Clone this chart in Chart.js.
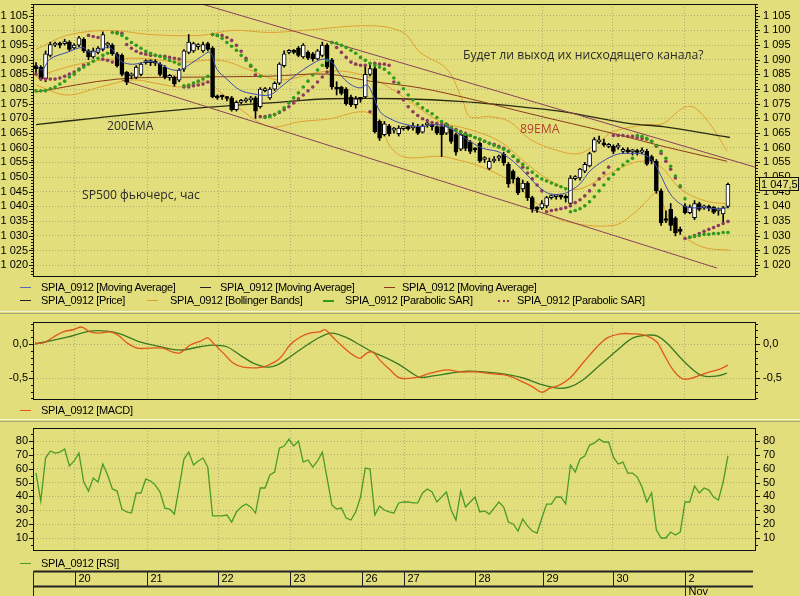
<!DOCTYPE html>
<html>
<head>
<meta charset="utf-8">
<script src="https://cdn.jsdelivr.net/npm/chart.js@4/dist/chart.umd.min.js"></script>
<style>
  body { margin: 0; width: 800px; height: 596px; overflow: hidden; position: relative; background: #E2DE7C; font-family: "Liberation Sans", Arial, sans-serif; }
  canvas { position: absolute; left: 0; }
  .note { position: absolute; white-space: nowrap; font: 12.2px "Open Sans", sans-serif; line-height: 18px; color: #2a2a2a; }
  .lg { position: absolute; white-space: nowrap; font-size: 11px; letter-spacing: -0.35px; line-height: 13px; color: #000; }
  .sw { position: absolute; width: 11px; height: 0; border-top: 1px solid #000; }
  .split { position: absolute; left: 0; width: 800px; height: 1px; }
</style>
</head>
<body>
<canvas id="price" width="800" height="311" style="top:0"></canvas>
<canvas id="macd" width="800" height="104" style="top:314px"></canvas>
<canvas id="rsi" width="800" height="174" style="top:422px"></canvas>

<div class="split" style="top:311px;background:#f6f4d8"></div>
<div class="split" style="top:313px;background:#a8a67c"></div>
<div class="split" style="top:419px;background:#f6f4d8"></div>
<div class="split" style="top:421px;background:#a8a67c"></div>

<div class="note" style="left:463px;top:46px">Будет ли выход их нисходящего канала?</div>
<div class="note" style="left:107px;top:117px">200EMA</div>
<div class="note" style="left:520px;top:120px;color:#b3402a">89EMA</div>
<div class="note" style="left:82px;top:186px">SP500 фьючерс, час</div>

<div class="sw" style="left:20px;top:287px;border-color:#5a64b4"></div><div class="lg" style="left:41px;top:281px">SPIA_0912 [Moving Average]</div>
<div class="sw" style="left:200px;top:287px;border-color:#222"></div><div class="lg" style="left:220px;top:281px">SPIA_0912 [Moving Average]</div>
<div class="sw" style="left:384px;top:287px;border-color:#8a3a1a"></div><div class="lg" style="left:402px;top:281px">SPIA_0912 [Moving Average]</div>
<div class="sw" style="left:20px;top:300px;border-color:#222"></div><div class="lg" style="left:41px;top:294px">SPIA_0912 [Price]</div>
<div class="sw" style="left:147px;top:300px;border-color:#e0a030"></div><div class="lg" style="left:170px;top:294px">SPIA_0912 [Bollinger Bands]</div>
<div class="sw" style="left:323px;top:300px;border-color:#2e9a1e;border-top-width:2px"></div><div class="lg" style="left:345px;top:294px">SPIA_0912 [Parabolic SAR]</div>
<div class="sw" style="left:498px;top:300px;border-color:#8e3a5e;border-top:2px dotted #8e3a5e"></div><div class="lg" style="left:517px;top:294px">SPIA_0912 [Parabolic SAR]</div>
<div class="sw" style="left:20px;top:410px;border-color:#e0561c"></div><div class="lg" style="left:41px;top:404px">SPIA_0912 [MACD]</div>
<div class="sw" style="left:20px;top:563px;border-color:#4a9a2a"></div><div class="lg" style="left:41px;top:557px">SPIA_0912 [RSI]</div>

<script>
// day boundaries on the bar index axis and their labels
const days = ['20', '21', '22', '23', '26', '27', '28', '29', '30', '2'];
const dayStart = [8.17, 23.26, 38.14, 53.23, 68.31, 77.12, 92.0, 106.24, 120.91, 135.99];

// hourly candles
const open = [1088,1087.5,1083.5,1091.5,1095,1095.2,1095.5,1096,1094,1095,
  1097,1093,1091,1092.5,1093.5,1095,1095,1092,1091.5,1085.8,
  1084.5,1084,1085,1089,1089,1089,1088.5,1087.5,1084,1084,
  1083,1086.8,1092.5,1093,1094.5,1093,1095.5,1094,1077.5,1077.5,
  1077,1077,1073,1075.5,1076,1076.3,1077,1074,1079.5,1077,
  1080,1082,1088,1092.5,1093,1094,1091,1092.5,1092,1090.3,
  1091.5,1095,1090,1080.5,1080.7,1080,1077.3,1074.7,1076.7,1077.3,
  1085,1087,1069,1064.5,1067.5,1066,1064.8,1066.5,1066.7,1066.8,
  1067.2,1065.3,1067.8,1067.5,1067.2,1067.2,1065,1066.5,1064.5,1059.5,
  1064.5,1062,1059.5,1061.5,1056,1053,1055.5,1056.5,1057.8,1054.4,
  1052,1049.6,1046,1048,1043,1039.5,1039.5,1040.2,1043,1043.3,
  1043.5,1043,1041,1049.5,1049.7,1052,1053.8,1058.8,1062,1061.5,
  1060.5,1060.5,1060.2,1058.8,1059,1058.6,1059,1058.5,1058.8,1057,
  1055.4,1045.3,1035.5,1039,1036,1031.8,1040.2,1037.9,1036.2,1041,
  1039.5,1039.6,1039.7,1038.5,1037.5,1040];
const high = [1089,1088,1093,1096,1096,1096,1097,1096.5,1095.5,1098,
  1097.5,1093.5,1094,1094.5,1099.5,1096,1095.5,1092.5,1092,1086,
  1085.5,1088,1089,1090,1090,1090,1089,1088,1085,1084.5,
  1087,1093.5,1098.6,1096,1095.5,1096,1096,1094.5,1078,1078,
  1077.5,1077.5,1076,1076.5,1077,1077.5,1077.5,1080.5,1080.5,1080.5,
  1082.5,1089,1093,1093.5,1093.5,1094.5,1095.5,1093,1092.5,1093.5,
  1096,1095.5,1090.5,1082.5,1081,1080.5,1078,1077.5,1077,1088,
  1088.5,1088,1069.5,1069,1068,1067,1067.5,1067.2,1067.5,1068.5,
  1068,1068,1069,1068,1067.5,1067.5,1068.5,1067,1065,1065,
  1065,1062.5,1060,1062,1057,1056.5,1057,1057.5,1058.5,1055,
  1052.5,1050,1049,1048.5,1043.5,1040,1042,1043.5,1044,1044,
  1044,1044,1050.5,1050.5,1053,1055,1058.5,1063.5,1064,1063,
  1061.5,1061,1061.5,1060,1060,1059.5,1059.5,1060,1059.5,1057.5,
  1056,1046,1038.5,1041,1036.5,1033,1041,1040.5,1042,1041.5,
  1040.5,1040.5,1040,1039.5,1040,1048];
const low = [1085,1083,1082.5,1091,1094.5,1094,1095,1093,1093.5,1094.5,
  1092.5,1090,1090.5,1092,1093,1094,1091.5,1087.5,1084.5,1081.5,
  1083.5,1083.5,1084.5,1088.5,1088,1088,1084.5,1083.5,1083,1081,
  1082.5,1086,1092,1092.5,1093.5,1092.5,1093,1077,1076.5,1076.5,
  1076,1072.5,1072.5,1075,1075.5,1075.5,1070,1073.5,1079,1076.5,
  1079.5,1081.5,1087.5,1092,1092,1091,1090.5,1090,1089.5,1090,
  1091,1087,1080,1078,1078,1074.5,1074,1073.5,1075.5,1077,
  1084.5,1065,1062.5,1064,1064,1065,1064,1066,1066,1066,
  1064.5,1065,1067,1066,1064.5,1057,1064.5,1061.5,1057.5,1059,
  1059,1058,1058.5,1055,1055,1052.5,1055,1055.5,1054,1046.5,
  1048,1044,1045,1042,1038,1038,1039,1039.5,1042.5,1042.5,
  1042.5,1041.5,1040,1049,1049,1051.5,1053.5,1058.5,1061.5,1060.5,
  1060,1058,1059.5,1058,1058,1057.5,1057.5,1058,1054,1054.5,
  1044.5,1033.5,1034.5,1031.8,1030,1030.5,1037.5,1037.5,1035.5,1038.5,
  1039,1038.5,1037.5,1037,1034.5,1039.5];
const close = [1087,1083.5,1092,1095.2,1095.3,1095,1096.2,1093.5,1095,1097.5,
  1093,1091,1093,1094,1098.6,1095.3,1092,1088,1085,1082.4,
  1085,1087.5,1088.5,1089.5,1089.2,1088.8,1085,1084,1084.3,1081.8,
  1086.5,1093,1096,1095.5,1095,1095.2,1093.5,1077.3,1077,1077.3,
  1076.8,1073,1075.5,1076,1076.5,1076.8,1072.5,1080,1080,1080,
  1082,1088.5,1092,1093,1092.5,1091.5,1095,1090.5,1090.3,1093,
  1095,1087.5,1080.7,1080,1078.5,1075,1074.7,1076.7,1076.5,1085,
  1087,1065.5,1063.3,1068.2,1064.8,1066.3,1066.7,1066.7,1066.5,1067,
  1065,1067.5,1068.2,1067.2,1065,1064.5,1068.2,1062.2,1058.5,1064.5,
  1059.8,1058.8,1059.3,1055.4,1056.2,1055.4,1056,1056.8,1054.8,1047.7,
  1049.3,1044.6,1048,1043,1039.2,1039,1041,1043,1043.3,1043.5,
  1043.2,1042.8,1049.7,1050,1052.7,1054.4,1058,1062.8,1062.3,1061,
  1060.8,1058.8,1060.5,1059,1058.6,1059,1058.4,1059,1054.4,1055.4,
  1045.3,1034.5,1035.2,1033.5,1031,1031.5,1037.9,1039.8,1041,1039,
  1039.8,1039.4,1038,1038.8,1039.5,1047.5];

// parabolic SAR, two settings
const sarGreen = [1079.4,1079.4,1079.4,1080.1,1080.7,1081.7,1082.7,1084.1,1085.1,1086.5,
  1087.5,1088.5,1089.5,1090.5,1091.5,1092.2,1099.3,1099.0,1098.3,1097.3,
  1095.9,1094.9,1093.9,1092.9,1092.2,1091.5,1091.2,1090.5,1089.8,1089.2,
  1088.5,1081.1,1081.4,1082.1,1082.7,1083.4,1084.4,1098.6,1098.3,1097.3,
  1095.9,1094.6,1093.2,1091.5,1089.8,1088.1,1086.5,1084.4,1070.3,1070.6,
  1071.3,1072.3,1073.6,1075.3,1077.0,1078.7,1080.7,1082.7,1084.8,1086.5,
  1088.1,1089.8,1095.9,1095.6,1094.9,1094.2,1093.2,1092.2,1090.8,1089.8,
  1088.8,1088.1,1087.5,1086.8,1085.5,1083.8,1082.1,1080.1,1078.0,1076.3,
  1075.0,1073.6,1072.6,1071.6,1070.3,1068.9,1067.9,1066.9,1065.9,1065.2,
  1064.5,1064.2,1063.5,1062.9,1062.2,1061.5,1060.8,1060.2,1059.5,1058.8,
  1057.1,1055.8,1054.4,1053.1,1051.7,1050.4,1049.4,1048.7,1048.0,1047.3,
  1046.7,1046.0,1038.2,1038.6,1039.2,1040.2,1041.6,1043.3,1045.3,1047.3,
  1049.4,1051.0,1052.7,1054.1,1055.4,1056.4,1064.2,1063.9,1063.2,1062.2,
  1060.8,1058.8,1056.4,1053.7,1050.4,1047.0,1042.6,1029.5,1029.8,1030.1,
  1030.5,1030.5,1030.8,1030.8,1031.1,1031.1];
const sarPurple = [1085.1,1083.4,1083.4,1083.4,1083.4,1083.8,1084.4,1085.1,1085.8,1086.8,
  1088.1,1098.3,1097.9,1097.6,1090.2,1089.8,1089.2,1099.3,1099.0,1095.2,
  1093.9,1092.9,1092.2,1091.9,1091.5,1091.5,1091.2,1091.2,1090.8,1090.5,
  1090.2,1080.7,1080.7,1081.1,1081.4,1081.7,1082.4,1098.6,1098.3,1098.3,
  1097.6,1096.6,1094.9,1092.9,1090.5,1087.8,1084.8,1070.6,1070.6,1071.0,
  1071.3,1072.0,1073.0,1074.0,1075.3,1076.7,1078.0,1079.4,1080.7,1082.4,
  1084.1,1085.8,1095.9,1094.2,1092.5,1090.8,1089.2,1088.5,1088.1,1088.1,
  1072.3,1088.8,1088.5,1088.5,1088.1,1082.4,1079.0,1076.3,1074.0,1072.3,
  1071.0,1069.9,1069.3,1068.6,1068.3,1067.9,1067.6,1066.9,1066.2,1065.5,
  1064.9,1064.2,1063.5,1062.9,1062.2,1061.5,1061.2,1060.5,1059.8,1058.8,
  1057.1,1055.4,1053.4,1051.4,1049.4,1047.3,1045.3,1038.2,1038.6,1038.9,
  1039.2,1039.6,1040.2,1041.3,1042.3,1043.6,1045.3,1047.3,1049.4,1051.4,
  1053.4,1064.2,1064.2,1064.2,1063.9,1063.9,1063.5,1063.2,1062.9,1062.2,
  1060.5,1058.1,1055.4,1052.7,1049.7,1046.7,1029.1,1029.5,1030.1,1030.8,
  1031.5,1032.2,1032.8,1033.5,1034.2,1034.9];

// moving averages, read as (bar index, price)
const maFastX = [0,1.3,2.9,6.5,9.8,11.3,13.4,15.5,17.6,19.7,21.8,23.9,26.0,28.1,30.2,32.3,34.4,36.5,37.9,40.0,
  42.7,45.5,49.0,51.8,54.7,57.4,60.1,62.0,63.7,65.8,67.9,69.4,70.6,72.1,74.2,76.9,80.5,84.0,86.8,88.9,
  90.9,93.7,96.6,97.9,100.0,102.1,104.1,105.6,107.7,110.4,111.9,114.0,116.1,118.8,121.8,124.5,127.2,129.3,130.8,132.9,
  135.0,137.0,139.8,142.7,144.8];
const maFastY = [1088.1,1086.5,1090.2,1092.5,1094.2,1092.5,1093.5,1094.2,1089.8,1088.5,1088.8,1089.5,1088.5,1086.8,1086.5,1088.5,1090.8,1092.5,1086.8,1083.4,
  1079.7,1078.4,1078.0,1081.4,1085.1,1088.1,1090.2,1089.2,1085.1,1081.7,1080.4,1081.4,1078.0,1072.3,1069.9,1068.2,1067.2,1067.9,1066.6,1064.5,
  1062.2,1059.8,1058.8,1057.8,1055.4,1052.1,1048.7,1046.3,1044.3,1044.3,1045.3,1047.7,1052.1,1055.4,1057.8,1058.1,1057.8,1055.4,1051.0,1044.3,
  1040.9,1039.6,1039.6,1039.2,1039.6];
const ema89X = [0,17.0,34.4,49.0,61.0,70.0,80.5,90.9,103.5,120.9,131.4,144.8];
const ema89Y = [1079.0,1083.4,1084.1,1084.4,1085.1,1082.7,1080.4,1076.7,1071.6,1064.9,1060.5,1055.4];
const ema200X = [0,13.4,34.4,49.0,61.6,76.3,89.5,103.5,110.4,124.5,131.4,145.4];
const ema200Y = [1067.9,1070.3,1073.6,1075.3,1076.7,1076.7,1075.7,1073.6,1072.3,1068.2,1067.2,1063.5];

// Bollinger bands
const bbUpX = [0,6.5,15.5,23.9,34.4,41.3,49.0,56.0,70.0,76.9,80.5,86.1,89.5,90.9,95.1,99.3,103.5,109.8,114.0,118.2,120.9,128.0,131.4,135.6,138.1,141.9,144.8];
const bbUpY = [1093.5,1098.3,1100.0,1098.6,1098.3,1100.0,1099.3,1100.0,1101.6,1099.3,1092.5,1086.8,1075.7,1070.6,1070.6,1068.9,1062.9,1058.8,1058.1,1062.2,1065.5,1067.9,1068.2,1073.6,1073.6,1066.6,1058.8];
const bbMidX = [0,6.5,13.4,21.8,30.2,38.6,44.8,51.1,59.5,65.8,72.1,78.4,84.7,90.9,97.2,103.5,109.8,114.0,120.3,126.6,130.8,135.0,140.2,144.8];
const bbMidY = [1084.1,1087.5,1089.8,1090.5,1089.2,1089.8,1086.5,1083.1,1085.8,1085.8,1082.4,1075.7,1068.9,1066.2,1062.2,1053.7,1047.0,1046.0,1051.4,1055.4,1053.7,1046.0,1041.9,1040.9];
const bbLoX = [0,6.5,13.4,20.3,26.0,30.2,35.8,38.6,42.7,49.0,55.3,61.6,68.5,71.7,74.2,77.3,84.7,87.8,93.0,99.3,105.6,110.4,120.9,125.5,128.0,130.1,132.4,135.0,139.8,145.4];
const bbLoY = [1081.4,1078.0,1080.7,1083.1,1081.7,1080.7,1082.4,1079.0,1073.3,1067.2,1068.9,1069.9,1072.3,1069.6,1060.5,1056.8,1057.1,1056.1,1053.7,1048.7,1040.2,1035.2,1033.5,1037.9,1041.9,1044.6,1036.9,1030.8,1026.1,1025.1];

// hand-drawn channel
const chanUpX = [33.9, 150.7], chanUpY = [1109.4, 1053.4];
const chanLoX = [18.0, 142.7], chanLoY = [1083.1, 1019.0];

// MACD and its signal line
const macdX = [-0.2,1.5,3.6,5.7,7.8,9.6,11.3,13.4,15.5,17.2,19.1,21.2,23.9,26.6,28.7,30.2,32.3,34.4,36.0,37.1,
  39.2,41.3,43.4,46.3,48.4,51.1,53.2,55.3,57.4,59.5,60.6,62.2,64.3,66.4,67.9,69.4,70.6,72.1,74.2,76.3,
  79.8,82.6,86.1,88.9,92.4,95.8,98.7,102.1,104.1,106.0,107.7,109.8,111.9,114.6,117.6,119.7,122.4,125.1,128.0,130.1,
  131.4,133.5,135.4,137.0,139.1,141.2,143.3,145.0];
const macdY = [0.015,0.015,0.10,0.18,0.21,0.25,0.18,0.16,0.18,0.13,0.015,-0.06,-0.06,-0.06,-0.12,-0.13,-0.015,0.04,0.09,0.015,
  -0.13,-0.28,-0.34,-0.35,-0.32,-0.21,-0.015,0.10,0.16,0.18,0.21,0.10,-0.04,-0.16,-0.21,-0.13,-0.12,-0.24,-0.38,-0.50,
  -0.49,-0.43,-0.38,-0.41,-0.41,-0.44,-0.46,-0.56,-0.63,-0.71,-0.65,-0.60,-0.50,-0.28,-0.04,0.09,0.15,0.15,0.12,0.03,
  -0.13,-0.38,-0.51,-0.51,-0.46,-0.41,-0.37,-0.31];
const signalX = [-0.2,6.5,11.3,14.9,17.6,21.8,26.0,30.2,34.4,37.1,40.0,42.7,45.5,48.4,50.5,53.2,56.8,59.5,62.0,65.2,
  67.9,70.6,73.6,76.3,78.4,80.5,83.2,86.8,90.3,93.7,97.9,102.1,105.6,109.2,111.9,114.6,118.2,121.8,125.1,128.0,
  130.1,132.2,134.9,137.7,139.8,142.7,144.8];
const signalY = [0.0,0.10,0.19,0.19,0.15,0.03,-0.04,-0.09,-0.04,-0.015,-0.04,-0.16,-0.28,-0.34,-0.31,-0.19,-0.015,0.10,0.16,0.09,
  -0.015,-0.12,-0.21,-0.31,-0.41,-0.49,-0.47,-0.43,-0.40,-0.41,-0.44,-0.50,-0.59,-0.65,-0.63,-0.53,-0.31,-0.09,0.09,0.13,
  0.12,0.015,-0.19,-0.38,-0.47,-0.47,-0.43];

// RSI per bar
const rsi = [56.9,36.7,67.7,72.8,71.3,72,74.2,62,65.6,71.3,
  50.4,43.9,53.3,50.4,63.4,55.5,45.4,43.9,30.9,28.8,
  28,42.5,42.5,52.6,51.1,48.2,43.2,31.6,30.9,27.3,
  46.8,67,72,62.7,65.6,67.7,61.2,25.9,25.9,25.9,
  26.6,21.5,28.8,32.4,34.5,32.4,28,46.1,46.1,55.5,
  57.6,74.9,76.4,81.4,76.4,80,64.8,66.3,61.2,65.6,
  72,53.3,33.8,30.9,31.6,24.4,23,28.8,39.6,60.5,
  59.8,26.6,33.1,30.2,28.8,28,35.3,36,36,35.3,
  35.3,42.5,45.4,43.2,36,39.6,43.2,30.2,23,43.9,
  32.4,36,39.6,28.8,29.5,27.3,31.6,36,32.4,21.5,
  20.1,15,23.7,18.7,15,13.6,24.4,34.5,34.5,39.6,
  39.6,34.5,62.7,57.6,67,69.2,77.1,78.5,81.4,79.3,
  79.3,68.4,63.4,64.8,56.9,56.9,54,46.8,36,42.5,
  15.8,10,10,14.3,12.2,14.3,36,36,47.5,42.5,
  46.1,44.6,39.6,37.4,50.4,69.2];

const priceTicks = [1020,1025,1030,1035,1040,1045,1050,1055,1060,1065,1070,1075,1080,1085,1090,1095,1100,1105];
const macdTicks = [-0.5, 0];
const rsiTicks = [10,20,30,40,50,60,70,80];

const BG = '#E2DE7C';
const GRID = 'rgba(110,110,100,0.45)';
Chart.defaults.font.family = '"Liberation Sans", Arial, sans-serif';
Chart.defaults.font.size = 11;
Chart.defaults.color = '#000';

const pts = (xs, ys) => xs.map((x, i) => ({ x, y: ys[i] }));
const bars = ys => ys.map((y, i) => ({ x: i, y }));
const fmtPrice = v => {
  const s = (Math.round(v * 10) / 10).toFixed(Number.isInteger(v) ? 0 : 1).replace('.', ',');
  return s.replace(/^(\d)(\d{3})/, '$1 $2');
};
const fmtMacd = v => v.toFixed(1).replace('.', ',');

const frame = {
  id: 'frame',
  afterDraw(chart) {
    const { ctx, chartArea: a } = chart;
    ctx.save();
    ctx.strokeStyle = '#111';
    ctx.lineWidth = 1;
    ctx.strokeRect(a.left - 0.5, a.top + 0.5, a.right - a.left + 1, a.bottom - a.top);
    ctx.restore();
  }
};

const ruler = {
  id: 'ruler',
  afterDraw(chart, args, opts) {
    const ctx = chart.ctx;
    ctx.save();
    ctx.strokeStyle = '#111';
    ctx.lineWidth = 1;
    ['y', 'y2'].forEach(id => {
      const s = chart.scales[id];
      const left = s.position === 'left';
      const edge = left ? chart.chartArea.left : chart.chartArea.right;
      for (let k = Math.ceil(s.min / opts.step - 1e-6); k * opts.step <= s.max + 1e-6; k++) {
        const v = k * opts.step;
        const major = Math.abs(v / opts.major - Math.round(v / opts.major)) < 1e-6;
        const len = major ? 5 : 3;
        const y = Math.round(s.getPixelForValue(v)) + 0.5;
        ctx.beginPath();
        ctx.moveTo(edge, y);
        ctx.lineTo(left ? edge - len : edge + len, y);
        ctx.stroke();
      }
    });
    ctx.restore();
  }
};

const lastPrice = {
  id: 'lastPrice',
  afterDraw(chart) {
    const ctx = chart.ctx;
    const v = close[close.length - 1];
    const y = Math.round(chart.scales.y2.getPixelForValue(v));
    const x = chart.chartArea.right + 4;
    ctx.save();
    ctx.fillStyle = BG;
    ctx.fillRect(x, y - 6, 39, 12);
    ctx.strokeStyle = '#111';
    ctx.strokeRect(x + 0.5, y - 6.5, 39, 13);
    ctx.fillStyle = '#000';
    ctx.font = '11px "Liberation Sans", Arial, sans-serif';
    ctx.textBaseline = 'middle';
    ctx.fillText(fmtPrice(v), x + 2, y + 0.5);
    ctx.restore();
  }
};

const dateRow = {
  id: 'dateRow',
  afterDraw(chart) {
    const ctx = chart.ctx;
    const xs = chart.scales.x;
    const top = 149.5, mid = 164.5, bottom = 174, left = 33.5, right = 753;
    ctx.save();
    ctx.strokeStyle = '#222';
    ctx.fillStyle = '#000';
    ctx.font = '11px "Liberation Sans", Arial, sans-serif';
    ctx.textBaseline = 'middle';
    ctx.lineWidth = 2;
    ctx.beginPath();
    ctx.moveTo(left, top); ctx.lineTo(right, top);
    ctx.moveTo(left, mid); ctx.lineTo(right, mid);
    ctx.stroke();
    ctx.lineWidth = 1;
    ctx.beginPath();
    ctx.moveTo(left, top); ctx.lineTo(left, bottom);
    ctx.stroke();
    dayStart.forEach((d, i) => {
      const x = Math.round(xs.getPixelForValue(d)) + 0.5;
      const last = i === dayStart.length - 1;
      ctx.beginPath();
      ctx.moveTo(x, top); ctx.lineTo(x, last ? bottom : mid);
      ctx.stroke();
      ctx.fillText(days[i], x + 3, 157);
      if (last) ctx.fillText('Nov', x + 3, 169.5);
    });
    ctx.restore();
  }
};

function xAxis() {
  return {
    type: 'linear', min: -0.42, max: 150.67, offset: false,
    afterBuildTicks: s => { s.ticks = dayStart.map(v => ({ value: v })); },
    afterFit: s => { s.height = 0; s.paddingLeft = 0; s.paddingRight = 0; },
    ticks: { display: false, autoSkip: false },
    grid: { drawTicks: false, color: GRID, offset: false },
    border: { display: false, dash: [1, 2] }
  };
}

function yAxis(pos, min, max, ticks, fmt) {
  return {
    type: 'linear', position: pos, min, max,
    afterBuildTicks: s => { s.ticks = ticks.map(v => ({ value: v })); },
    afterFit: s => { s.width = pos === 'left' ? 34 : 45; s.paddingTop = 0; s.paddingBottom = 0; },
    ticks: { callback: fmt, padding: pos === 'left' ? 6 : 8, autoSkip: false, color: '#000' },
    grid: { drawTicks: false, drawOnChartArea: pos === 'left', color: GRID },
    border: { display: false, dash: [1, 2] }
  };
}

function baseOptions(padTop, padBottom, yMin, yMax, ticks, fmt, step, major) {
  return {
    responsive: false, animation: false, devicePixelRatio: 1, events: [],
    layout: { padding: { top: padTop, bottom: padBottom, left: 0, right: 0 } },
    scales: {
      x: xAxis(),
      y: yAxis('left', yMin, yMax, ticks, fmt),
      y2: yAxis('right', yMin, yMax, ticks, fmt)
    },
    plugins: { legend: { display: false }, tooltip: { enabled: false }, ruler: { step, major } }
  };
}

const line = (data, color, order, width) => ({
  type: 'line', data, borderColor: color, borderWidth: width || 1, pointRadius: 0,
  tension: 0.35, order, yAxisID: 'y'
});
const dots = (ys, color, order) => ({
  type: 'line', data: bars(ys), showLine: false, pointRadius: 1.8, pointBorderWidth: 0,
  pointBackgroundColor: color, order, yAxisID: 'y'
});

new Chart(document.getElementById('price'), {
  type: 'line',
  data: {
    datasets: [
      line(pts(maFastX, maFastY), '#3c4cb0', 1),
      dots(sarGreen, '#2e9a1e', 2),
      dots(sarPurple, '#8e3a5e', 3),
      {
        type: 'bar', data: open.map((o, i) => ({ x: i, y: [o, close[i]] })), order: 4, yAxisID: 'y',
        grouped: false, barThickness: 4, minBarLength: 2, borderSkipped: false, borderWidth: 1,
        borderColor: '#000', backgroundColor: open.map((o, i) => close[i] >= o ? '#ffffff' : '#000000')
      },
      {
        type: 'bar', data: low.map((l, i) => ({ x: i, y: [l, high[i]] })), order: 5, yAxisID: 'y',
        grouped: false, barThickness: 1, borderWidth: 0, backgroundColor: '#000'
      },
      line(pts(chanUpX, chanUpY), '#8a4058', 6),
      line(pts(chanLoX, chanLoY), '#8a4058', 6),
      line(pts(ema89X, ema89Y), '#8a3a1a', 7),
      line(pts(ema200X, ema200Y), '#2a2a12', 8, 1.3),
      line(pts(bbUpX, bbUpY), '#e0a030', 9),
      line(pts(bbMidX, bbMidY), '#e0a030', 9),
      line(pts(bbLoX, bbLoY), '#e0a030', 9)
    ]
  },
  options: baseOptions(1, 35, 1016.3, 1109.0, priceTicks, v => fmtPrice(v), 1, 5),
  plugins: [frame, ruler, lastPrice]
});

new Chart(document.getElementById('macd'), {
  type: 'line',
  data: {
    datasets: [
      line(pts(macdX, macdY), '#e0561c', 1, 1.3),
      line(pts(signalX, signalY), '#3a7a20', 2, 1.3)
    ]
  },
  options: baseOptions(8, 19, -0.809, 0.324, macdTicks, v => fmtMacd(v), 0.1, 0.5),
  plugins: [frame, ruler]
});

new Chart(document.getElementById('rsi'), {
  type: 'line',
  data: {
    datasets: [
      { ...line(bars(rsi), '#4a9a2a', 1, 1.3), tension: 0 }
    ]
  },
  options: baseOptions(6, 46, 1.34, 89.4, rsiTicks, v => String(v), 5, 10),
  plugins: [frame, ruler, dateRow]
});
</script>
</body>
</html>
